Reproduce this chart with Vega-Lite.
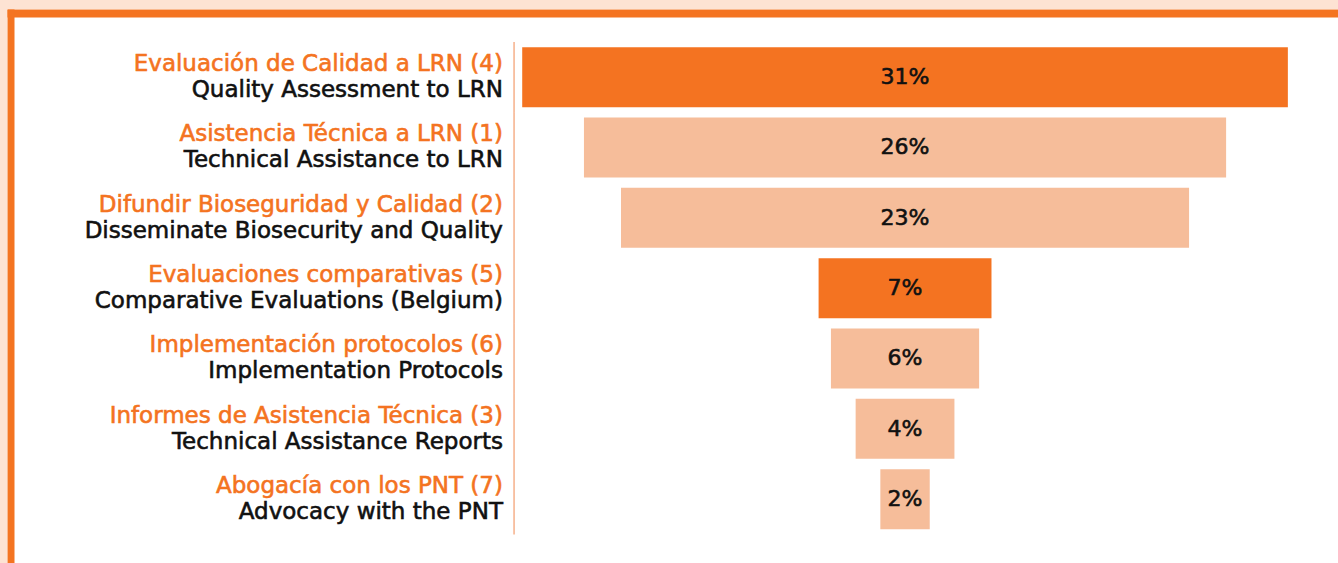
{
  "$schema": "https://vega.github.io/schema/vega-lite/v6.json",
  "width": 1338,
  "height": 563,
  "autosize": {"type": "fit", "contains": "padding"},
  "padding": {"left": 7, "top": 9, "right": 0, "bottom": 0},
  "background": "#FDE3D3",
  "config": {"view": {"fill": "white", "stroke": null}, "font": "DejaVu Sans"},
  "data": {
    "values": [
      {"es": "Evaluación de Calidad a LRN (4)", "en": "Quality Assessment to LRN", "value": 31, "label": "31%", "group": "alto"},
      {"es": "Asistencia Técnica a LRN (1)", "en": "Technical Assistance to LRN", "value": 26, "label": "26%", "group": "normal"},
      {"es": "Difundir Bioseguridad y Calidad (2)", "en": "Disseminate Biosecurity and Quality", "value": 23, "label": "23%", "group": "normal"},
      {"es": "Evaluaciones comparativas (5)", "en": "Comparative Evaluations (Belgium)", "value": 7, "label": "7%", "group": "alto"},
      {"es": "Implementación protocolos (6)", "en": "Implementation Protocols", "value": 6, "label": "6%", "group": "normal"},
      {"es": "Informes de Asistencia Técnica (3)", "en": "Technical Assistance Reports", "value": 4, "label": "4%", "group": "normal"},
      {"es": "Abogacía con los PNT (7)", "en": "Advocacy with the PNT", "value": 2, "label": "2%", "group": "normal"}
    ]
  },
  "encoding": {
    "y": {
      "field": "en",
      "type": "nominal",
      "sort": null,
      "scale": {"paddingInner": 0.147, "paddingOuter": 0.512, "align": 0.53},
      "axis": {"labels": false, "ticks": false, "title": null, "grid": false, "domainColor": "#F47421", "domainWidth": 7, "offset": -3.5}
    }
  },
  "layer": [
    {
      "mark": {"type": "bar"},
      "encoding": {
        "x": {"field": "value", "type": "quantitative", "stack": "center", "scale": {"domain": [-20.86, 33.03], "nice": false, "zero": false},
          "axis": {"orient": "top", "labels": false, "ticks": false, "grid": false, "title": null, "domainColor": "#F47421", "domainWidth": 8, "offset": -4}},
        "color": {"field": "group", "type": "nominal", "scale": {"domain": ["alto", "normal"], "range": ["#F47321", "#F6BD9A"]}, "legend": null}
      }
    },
    {
      "mark": {"type": "tick", "color": "#F6B08A", "size": 70.5, "thickness": 1.5, "opacity": 1},
      "encoding": {
        "x": {"datum": -0.33, "type": "quantitative", "scale": {"domain": [-20.86, 33.03], "nice": false, "zero": false},
          "axis": {"orient": "top", "labels": false, "ticks": false, "grid": false, "title": null, "domainColor": "#F47421", "domainWidth": 8, "offset": -4}}
      }
    },
    {
      "mark": {"type": "text", "align": "center", "baseline": "middle", "fontSize": 22, "color": "#111111", "stroke": "#111111", "strokeWidth": 0.6},
      "encoding": {
        "x": {"datum": 15.5, "type": "quantitative", "scale": {"domain": [-20.86, 33.03], "nice": false, "zero": false},
          "axis": {"orient": "top", "labels": false, "ticks": false, "grid": false, "title": null, "domainColor": "#F47421", "domainWidth": 8, "offset": -4}},
        "text": {"field": "label"}
      }
    },
    {
      "mark": {"type": "text", "align": "right", "baseline": "middle", "fontSize": 23, "color": "#F47321", "stroke": "#F47321", "strokeWidth": 0.6, "dy": -13},
      "encoding": {
        "x": {"datum": -0.78, "type": "quantitative", "scale": {"domain": [-20.86, 33.03], "nice": false, "zero": false},
          "axis": {"orient": "top", "labels": false, "ticks": false, "grid": false, "title": null, "domainColor": "#F47421", "domainWidth": 8, "offset": -4}},
        "text": {"field": "es"}
      }
    },
    {
      "mark": {"type": "text", "align": "right", "baseline": "middle", "fontSize": 23, "color": "#111111", "stroke": "#111111", "strokeWidth": 0.6, "dy": 13},
      "encoding": {
        "x": {"datum": -0.78, "type": "quantitative", "scale": {"domain": [-20.86, 33.03], "nice": false, "zero": false},
          "axis": {"orient": "top", "labels": false, "ticks": false, "grid": false, "title": null, "domainColor": "#F47421", "domainWidth": 8, "offset": -4}},
        "text": {"field": "en"}
      }
    }
  ]
}
